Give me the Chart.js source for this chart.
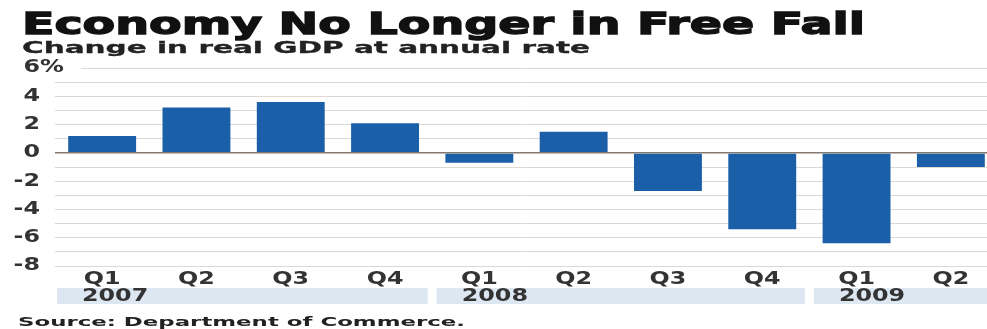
<!DOCTYPE html>
<html>
<head>
<meta charset="utf-8">
<script src="https://cdn.jsdelivr.net/npm/chart.js"></script>
<style>
  body { margin: 0; background: #fff; width: 987px; height: 329px; overflow: hidden; position: relative; }
  #wrap { position: absolute; left: 0; top: 0; width: 1000px; height: 329px; }
  .txt { position: absolute; white-space: nowrap; font-family: "DejaVu Sans", sans-serif; font-weight: bold; line-height: 1; transform-origin: 0 0; }
  #title { left: 22px; top: 8px; font-size: 31px; color: #111; -webkit-text-stroke: 1.3px #111; }
  #sub { left: 22px; top: 40px; font-size: 16.5px; color: #222; -webkit-text-stroke: 0.3px #222; }
  #src { left: 18px; top: 315px; font-size: 13px; color: #222; }
</style>
</head>
<body>
<div id="wrap"><canvas id="mycanvas" width="1000" height="329"></canvas></div>
<div class="txt" id="title" data-w="843">Economy No Longer in Free Fall</div>
<div class="txt" id="sub" data-w="568">Change in real GDP at annual rate</div>
<div class="txt" id="src" data-w="447">Source: Department of Commerce.</div>
<script>
// quarters and values (percent change, annual rate)
var quarters = ['Q1', 'Q2', 'Q3', 'Q4', 'Q1', 'Q2', 'Q3', 'Q4', 'Q1', 'Q2'];
var gdp = [1.2, 3.2, 3.6, 2.1, -0.7, 1.5, -2.7, -5.4, -6.4, -1.0];
var years = ['2007', '2008', '2009'];
var yearStart = [0, 4, 8];
var yearCount = [4, 4, 2];
var yTicks = [6, 4, 2, 0, -2, -4, -6, -8];

var SX = 1.4;
var labelColor = '#333';

function stretchText(ctx, text, x, y, align) {
	ctx.save();
	ctx.translate(x, y);
	ctx.scale(SX, 1);
	ctx.textAlign = align;
	ctx.fillText(text, 0, 0);
	ctx.restore();
}

var labelsPlugin = {
	id: 'labels',
	afterDraw: function(chart) {
		var ctx = chart.ctx;
		var xs = chart.scales.x;
		var ys = chart.scales.y;
		var area = chart.chartArea;
		var step = xs.getPixelForValue(1) - xs.getPixelForValue(0);

		// clear the top grid line behind the "6%" label
		ctx.fillStyle = '#fff';
		ctx.fillRect(area.left - 2, ys.getPixelForValue(6) - 3, 28, 6);

		ctx.font = 'bold 17px "DejaVu Sans"';
		ctx.textBaseline = 'middle';
		ctx.fillStyle = labelColor;
		for (var i in yTicks) {
			var v = yTicks[i];
			var py = ys.getPixelForValue(v);
			stretchText(ctx, String(v), 40, py, 'right');
			if (v === 6) stretchText(ctx, '%', 40, py, 'left');
		}

		// quarter labels
		for (var q in quarters) {
			stretchText(ctx, quarters[q], xs.getPixelForValue(Number(q)), area.bottom + 14, 'center');
		}

		// year bands
		for (var y in years) {
			var first = yearStart[y];
			var last = first + yearCount[y] - 1;
			var x0 = xs.getPixelForValue(first) - step / 2 + (y == 0 ? 2 : 4.5);
			var x1 = xs.getPixelForValue(last) + step / 2 - 4.5;
			ctx.fillStyle = '#dde7f1';
			ctx.fillRect(x0, area.bottom + 22, x1 - x0, 16);
			ctx.fillStyle = labelColor;
			stretchText(ctx, years[y], x0 + 25, area.bottom + 30.5, 'left');
		}
	}
};

var chartdata = {
	labels: quarters,
	datasets: [
		{
			label: 'Change in real GDP',
			backgroundColor: '#1a5fa8',
			borderColor: '#1a5fa8',
			borderWidth: 0,
			barPercentage: 0.72,
			categoryPercentage: 1.0,
			data: gdp
		}
	]
};

var ctx = document.getElementById('mycanvas');
var barGraph = new Chart(ctx, {
	type: 'bar',
	data: chartdata,
	plugins: [labelsPlugin],
	options: {
		responsive: false,
		animation: false,
		devicePixelRatio: 1,
		layout: { padding: { left: 55, right: 2, top: 68, bottom: 63 } },
		plugins: { legend: { display: false }, tooltip: { enabled: false } },
		scales: {
			x: { display: false },
			y: {
				min: -8,
				max: 6,
				ticks: { display: false, stepSize: 1 },
				border: { display: false },
				grid: {
					drawTicks: false,
					color: function(c) { return c.tick.value === 0 ? '#857870' : '#dcd8d4'; },
					lineWidth: function(c) { return c.tick.value === 0 ? 1.6 : 1; }
				}
			}
		}
	}
});

// stretch the headline texts to their widths
document.fonts.ready.then(function() {
	var els = document.querySelectorAll('.txt');
	for (var i = 0; i < els.length; i++) {
		var w = els[i].getBoundingClientRect().width;
		els[i].style.transform = 'scaleX(' + (Number(els[i].dataset.w) / w) + ')';
	}
});
</script>
</body>
</html>
